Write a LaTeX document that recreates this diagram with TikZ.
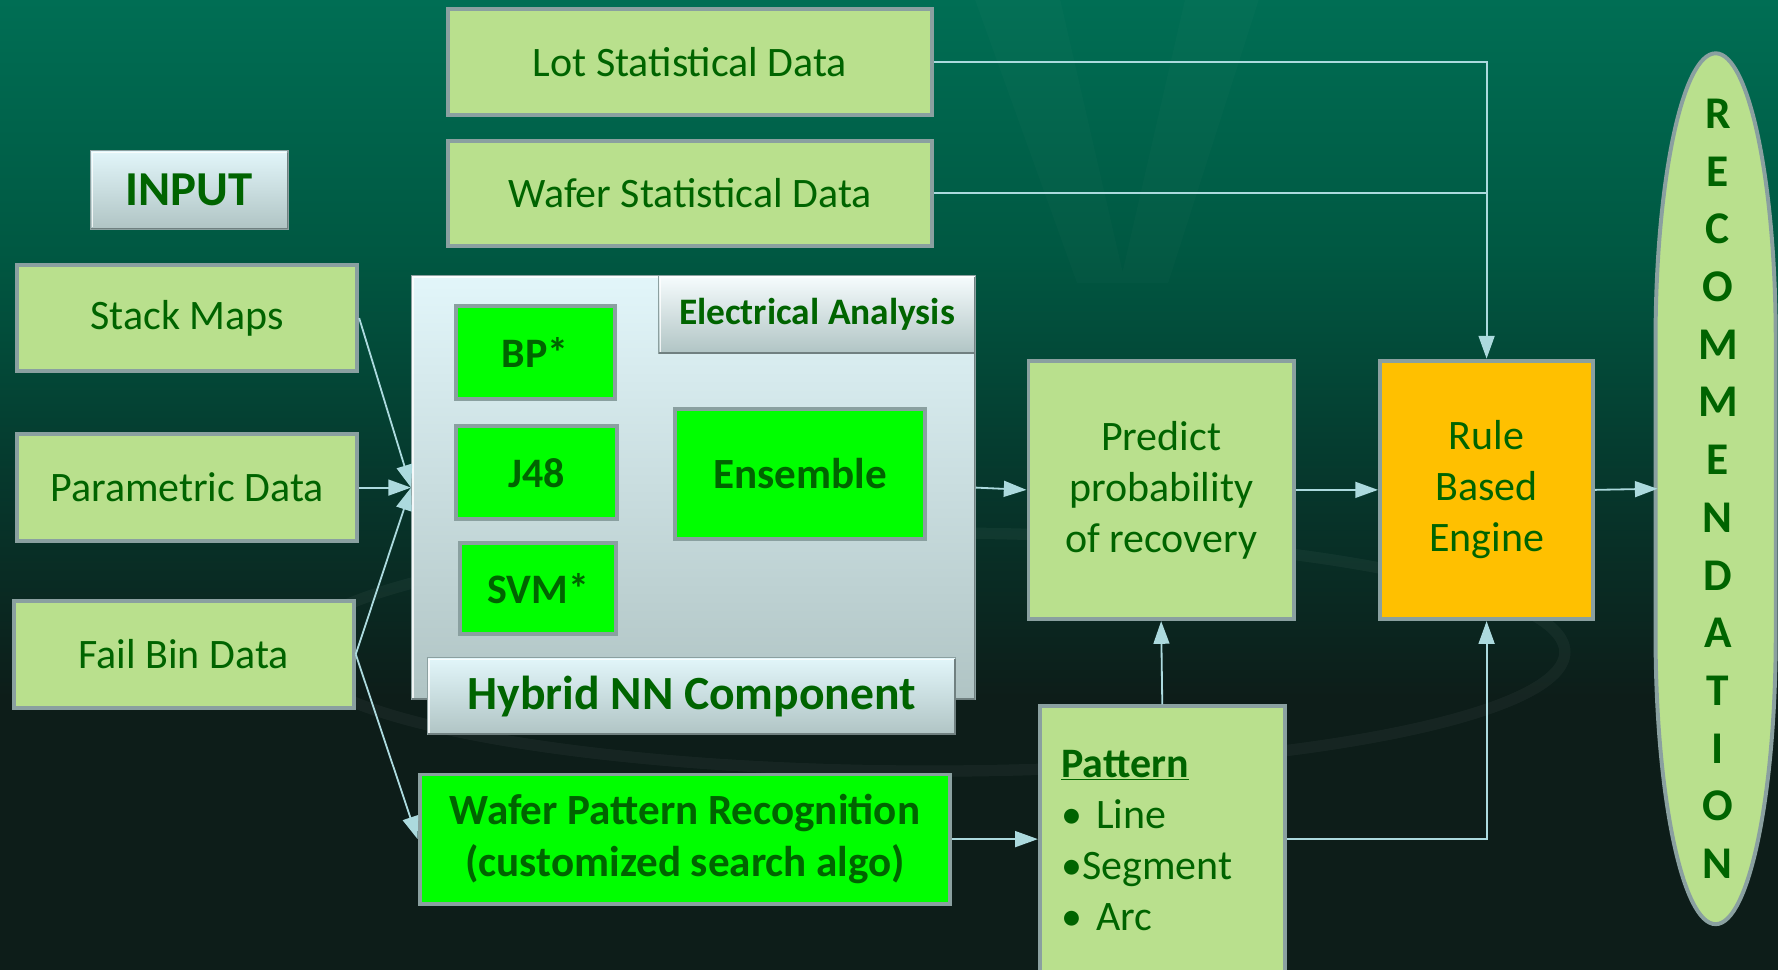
\documentclass[tikz,border=0pt]{standalone}
\usepackage{fontspec}
\setmainfont{Carlito}
\usetikzlibrary{arrows.meta,calc}
\definecolor{txt}{RGB}{0,100,0}
\definecolor{lg}{RGB}{185,224,141}
\definecolor{brg}{RGB}{0,255,0}
\definecolor{bord}{RGB}{138,160,160}
\definecolor{orng}{RGB}{255,192,0}
\definecolor{conn}{RGB}{172,218,222}
\definecolor{bgtop}{RGB}{0,110,84}
\definecolor{bgmid}{RGB}{0,88,66}
\definecolor{bgmidb}{RGB}{6,55,44}
\definecolor{bgbot}{RGB}{13,29,25}
\definecolor{bevtop}{RGB}{226,246,250}
\definecolor{bevbot}{RGB}{176,196,196}
\definecolor{bevedge}{RGB}{140,160,160}
\pgfdeclareverticalshading{bgshade}{100bp}{color(0bp)=(bgbot); color(25bp)=(bgbot); color(39bp)=(bgbot); color(50bp)=(bgmidb); color(62bp)=(bgmid); color(75bp)=(bgtop); color(100bp)=(bgtop)}
\newcommand\fsz[2]{\fontsize{#1}{#2}\selectfont}
\newcommand\bevelit[1]{%
  \draw[white, line width=1.5pt, opacity=0.8] ([shift={(2,-2)}]#1.south west) -- ([shift={(2,2)}]#1.north west) -- ([shift={(-2,2)}]#1.north east);
  \draw[bevedge!80!black, line width=1.5pt] ([shift={(-1,2)}]#1.north east) -- ([shift={(-1,-1)}]#1.south east) -- ([shift={(1,-1)}]#1.south west);}
\begin{document}
\begin{tikzpicture}[x=1pt,y=-1pt,
  box/.style={draw=bord, line width=3.5pt, fill=lg, text=txt, inner sep=0pt, align=center, font=\fsz{37}{45}},
  bright/.style={draw=bord, line width=3.5pt, fill=brg, text=txt, inner sep=0pt, align=center, font=\bfseries\fsz{37}{46}},
  bev/.style={top color=bevtop, bottom color=bevbot, draw=bevedge, line width=1pt, text=txt, inner sep=0pt, align=center},
  conn/.style={draw=conn, line width=1.6pt, -{Triangle[length=20pt,width=14pt]}},
  plain/.style={draw=conn, line width=1.6pt}]
\useasboundingbox (0,0) rectangle (1568,855);
\shade[shading=bgshade] (0,0) rectangle (1568,855);
% faint decorations
\draw[white, opacity=0.04, line width=10pt] (820,575) ellipse[x radius=560, y radius=105];
\fill[white, opacity=0.015] (860,0) -- (935,0) -- (990,240) -- (1045,0) -- (1110,0) -- (1030,250) -- (950,250) -- cycle;

% input boxes
\node[bev, minimum width=174, minimum height=69, font=\bfseries\fsz{43}{46}] (input) at (167,167.5) {INPUT};
\bevelit{input}
\node[box, minimum width=427, minimum height=93] (lot) at (608.5,54.5) {Lot Statistical Data};
\node[box, minimum width=427, minimum height=93] (wsd) at (608.5,170.5) {Wafer Statistical Data};
\node[box, minimum width=300, minimum height=93] (stack) at (165,280.5) {Stack Maps};
\node[box, minimum width=300, minimum height=94] (param) at (165,430) {Parametric Data};
\node[box, minimum width=300, minimum height=94] (fail) at (162,577) {Fail Bin Data};

% hybrid container
\node[bev, minimum width=497, minimum height=374] (hyb) at (611.5,430) {};
\bevelit{hyb}
\node[bright, minimum width=140, minimum height=82] (bp) at (472,311) {BP*};
\node[bright, minimum width=142, minimum height=82] (j48) at (473,417) {J48};
\node[bright, minimum width=137, minimum height=80] (svm) at (474.5,519) {SVM*};
\node[bright, minimum width=221, minimum height=114, font=\bfseries\fsz{38}{42}] (ens) at (705.5,418) {Ensemble};
\node[bev, minimum width=466, minimum height=68, font=\bfseries\fsz{42}{46}] (hnn) at (610,614) {Hybrid NN Component};
\bevelit{hnn}
\node[bev, top color=white!70!bevtop, minimum width=279, minimum height=69, font=\bfseries\fsz{33}{36}] (ea) at (720.5,277.5) {Electrical Analysis};
\bevelit{ea}

\node[bright, minimum width=468, minimum height=114, font=\bfseries\fsz{38}{46}] (wpr) at (604,740) {Wafer Pattern Recognition\\(customized search algo)};
\node[box, minimum width=234, minimum height=228] (pred) at (1024,432) {Predict\\probability\\of recovery};
\node[box, fill=orng, minimum width=188, minimum height=228] (rule) at (1311,432) {Rule\\Based\\Engine};
\node[box, minimum width=216, minimum height=237, text width=178, align=left] (pat) at (1025,741.5) {\underline{\textbf{Pattern}}\\\textbullet{} Line\\\textbullet Segment\\\textbullet{} Arc};

% recommendation
\draw[draw=bord, line width=3.5pt, fill=lg] (1460,560) -- (1460,300) arc[start angle=180, end angle=360, x radius=53, y radius=253] -- (1566,560) arc[start angle=0, end angle=180, x radius=53, y radius=255] -- cycle;
\node[minimum width=106, minimum height=768, inner sep=0pt, text=txt, align=center, font=\bfseries\fsz{40}{50.9}] (rec) at (1515,431) {R\\E\\C\\O\\M\\M\\E\\N\\D\\A\\T\\I\\O\\N};

% connectors
\draw[conn] (stack.east) -- (hyb.west);
\draw[conn] (param.east) -- (hyb.west);
\draw[conn] (fail.east) -- (hyb.west);
\draw[conn] (fail.east) -- (wpr.west);
\draw[conn] (hyb.east) -- (pred.west);
\draw[conn] (pred.east) -- (rule.west);
\draw[conn] (rule.east) -- (rec.west);
\draw[conn] (lot.east) -| (rule.north);
\draw[plain] (wsd.east) -- (wsd.east -| rule.north);
\draw[conn] (wpr.east) -- (wpr.east -| pat.west);
\draw[conn] (pat.north) -- (pred.south);
\draw[conn] (pat.east |- wpr.east) -| (rule.south);
\end{tikzpicture}
\end{document}
